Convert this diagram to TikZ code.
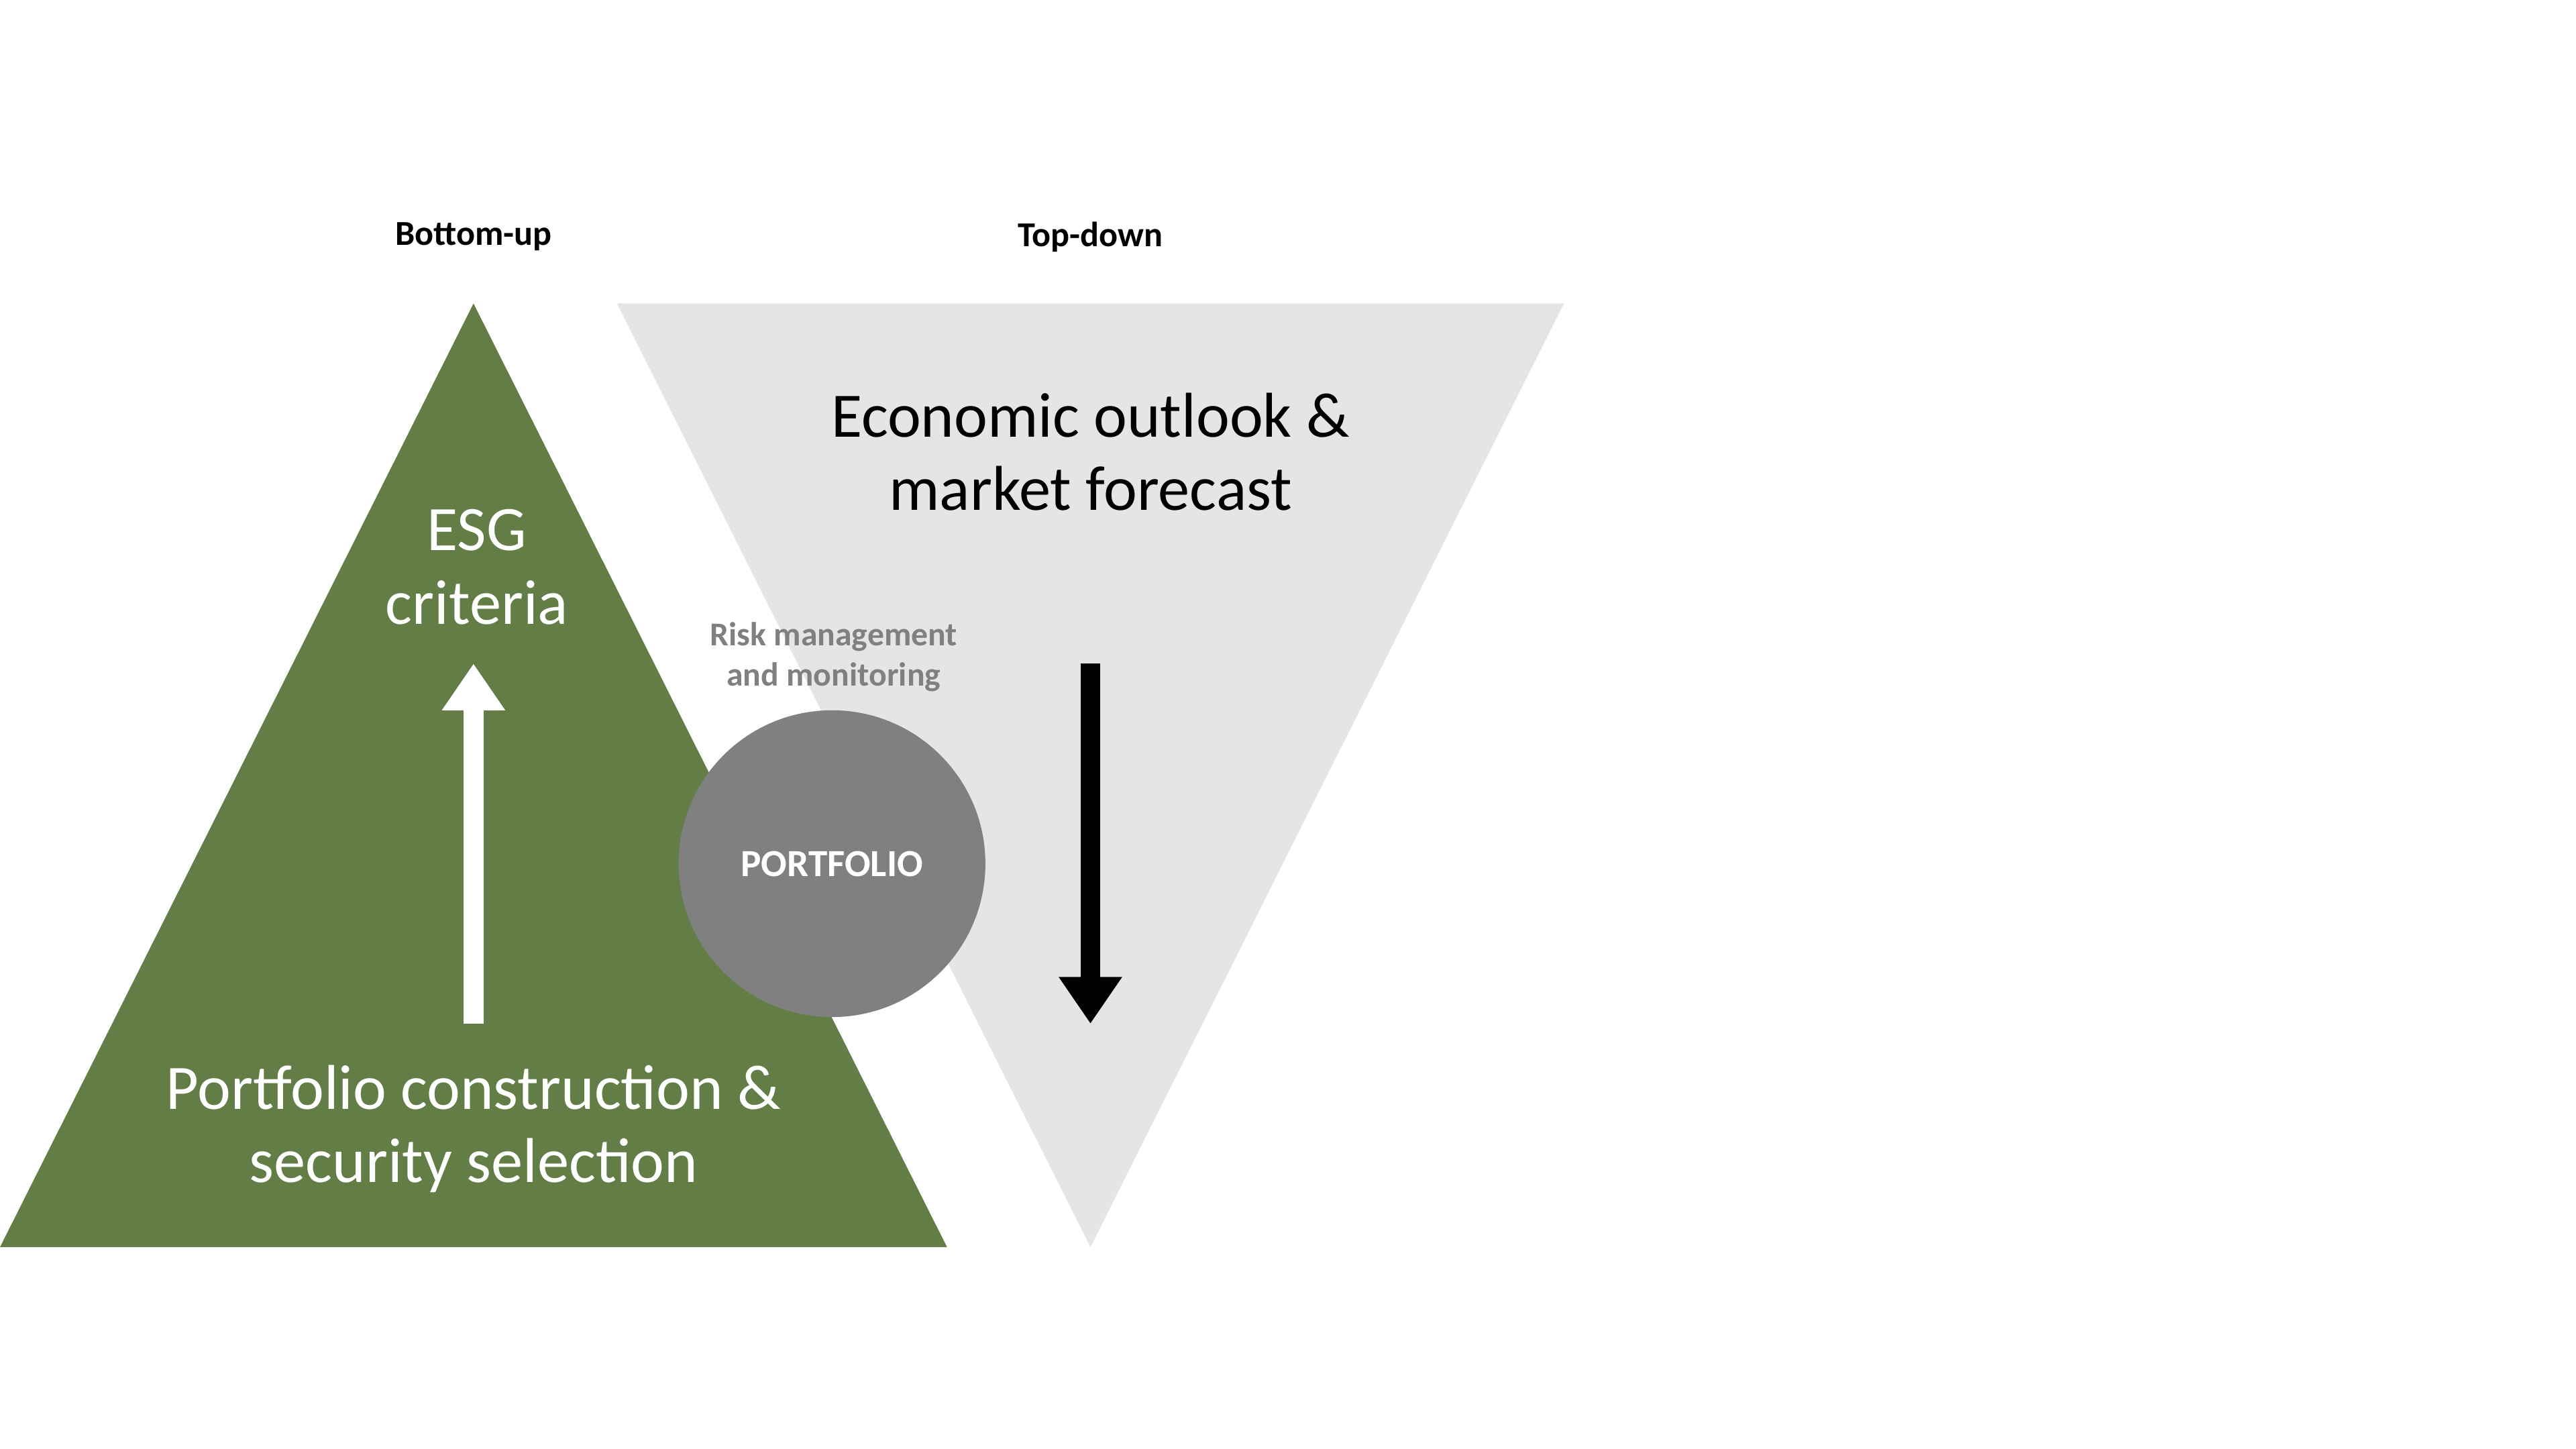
\documentclass[tikz,border=0pt]{standalone}
\usepackage{fontspec}
\setmainfont{Carlito}
\usetikzlibrary{arrows.meta}
\definecolor{esggreen}{RGB}{98,126,70}
\definecolor{lightgrey}{RGB}{229,229,229}
\definecolor{midgrey}{RGB}{128,128,128}
\tikzset{
  heading/.style={font=\fontsize{21}{25}\selectfont\bfseries},
  bigtext/.style={font=\fontsize{38}{44}\selectfont, align=center},
  bigarrow/.style={line width=12pt, -{Triangle[length=28pt,width=36pt]}}
}
\begin{document}
\begin{tikzpicture}[x=1pt,y=-1pt]
\useasboundingbox (0,0) rectangle (1545,869);
\fill[lightgrey] (370,182) -- (938,182) -- (654,748) -- cycle;
\fill[esggreen] (284,182) -- (568,748) -- (0,748) -- cycle;
\node[heading] (bottomup) at (284,142) {Bottom-up};
\node[heading] (topdown) at (654,142) {Top-down};
\node[bigtext] (outlook) at (654,271) {Economic outlook \&\\market forecast};
\node[bigtext, text=white] (esg) at (286,340) {ESG\\criteria};
\node[bigtext, text=white] (construction) at (284,677) {Portfolio construction \&\\security selection};
\node[font=\fontsize{20}{24}\selectfont\bfseries, text=midgrey, align=center] (risk) at (500,394) {Risk management\\and monitoring};
\node[circle, fill=midgrey, minimum size=184pt, text=white, font=\fontsize{23}{27}\selectfont\bfseries] (portfolio) at (499,518) {PORTFOLIO};
\coordinate (upstart) at (284,614);
\coordinate (upend) at (284,398);
\coordinate (downstart) at (654,398);
\coordinate (downend) at (654,614);
\draw[bigarrow, white] (upstart) -- (upend);
\draw[bigarrow, black] (downstart) -- (downend);
\end{tikzpicture}
\end{document}
